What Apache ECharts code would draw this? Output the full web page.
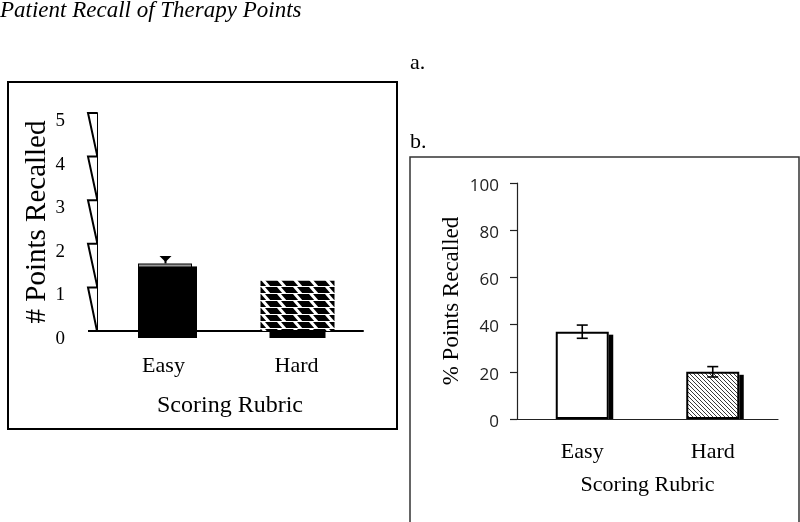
<!DOCTYPE html>
<html><head><meta charset="utf-8">
<script src="https://cdn.jsdelivr.net/npm/echarts@6/dist/echarts.min.js"></script>
<style>html,body{margin:0;padding:0;background:#fff}#c{width:800px;height:522px}</style>
</head><body><div id="c"></div>
<script>
// ---- data ----
const categories = ['Easy', 'Hard'];
const countMeans = [1.55, 1.15];       // panel a: # points recalled
const countErrTop = [1.72];            // panel a: visible error marker (Easy)
const countTicks = [0, 1, 2, 3, 4, 5]; // panel a tick values
const percentMeans = [37, 20];         // panel b: % points recalled
const percentErr = [2.8, 2.2];         // panel b: +/- error

// ---- styles ----
const serif = 'Liberation Serif';
const barWidthA = [59, 74];
const barShiftA = [4, 1];

function zigzagPattern() {
  const c = document.createElement('canvas'); c.width = 16; c.height = 7;
  const g = c.getContext('2d');
  g.fillStyle = '#000'; g.fillRect(0, 0, 16, 7);
  g.fillStyle = '#fff';
  g.beginPath(); g.moveTo(5, 0); g.lineTo(9, 0); g.lineTo(15, 7); g.lineTo(11, 7); g.closePath(); g.fill();
  g.beginPath(); g.moveTo(-11, 0); g.lineTo(-7, 0); g.lineTo(-1, 7); g.lineTo(-5, 7); g.closePath(); g.fill();
  g.fillRect(0, 6, 16, 1);
  return c;
}
function hatchPattern() {
  const c = document.createElement('canvas'); c.width = 4; c.height = 4;
  const g = c.getContext('2d');
  g.fillStyle = '#fff'; g.fillRect(0, 0, 4, 4);
  g.strokeStyle = '#3a3a3a'; g.lineWidth = 1;
  g.beginPath();
  g.moveTo(-1, -1); g.lineTo(5, 5);
  g.moveTo(-1, 3); g.lineTo(1, 5);
  g.moveTo(3, -1); g.lineTo(5, 1);
  g.stroke();
  return c;
}
const zig = { image: zigzagPattern(), repeat: 'repeat' };
const hatch = { image: hatchPattern(), repeat: 'repeat' };

const chart = echarts.init(document.getElementById('c'), null, { renderer: 'canvas' });

const option = {
  animation: false,
  backgroundColor: '#fff',
  title: [
    { text: 'Patient Recall of Therapy Points', left: 0, top: -1, padding: 0,
      textStyle: { fontFamily: serif, fontStyle: 'italic', fontWeight: 'normal', fontSize: 23, color: '#000' } },
    { text: 'a.', left: 410, top: 52, padding: 0,
      textStyle: { fontFamily: serif, fontWeight: 'normal', fontSize: 22, color: '#000' } },
    { text: 'b.', left: 410, top: 131, padding: 0,
      textStyle: { fontFamily: serif, fontWeight: 'normal', fontSize: 22, color: '#000' } }
  ],
  graphic: [
    { type: 'rect', shape: { x: 8, y: 82, width: 389, height: 347 }, style: { fill: 'none', stroke: '#000', lineWidth: 2 }, z: 1 },
    { type: 'rect', shape: { x: 410, y: 157, width: 389, height: 380 }, style: { fill: 'none', stroke: '#333', lineWidth: 1.5 }, z: 1 }
  ],
  grid: [
    { left: 97, right: 800 - 363, top: 113, bottom: 522 - 331 },
    { left: 517, right: 800 - 778, top: 183, bottom: 522 - 419 }
  ],
  xAxis: [
    { gridIndex: 0, type: 'category', data: categories,
      axisLine: { show: true, lineStyle: { color: '#000', width: 2 } }, axisTick: { show: false },
      axisLabel: { fontFamily: serif, fontSize: 22, color: '#000', margin: 24 },
      name: 'Scoring Rubric', nameLocation: 'middle', nameGap: 63,
      nameTextStyle: { fontFamily: serif, fontSize: 24, color: '#000' } },
    { gridIndex: 1, type: 'category', data: categories,
      axisLine: { show: true, lineStyle: { color: '#222', width: 1.2 } }, axisTick: { show: false },
      axisLabel: { fontFamily: serif, fontSize: 22, color: '#000', margin: 22 },
      name: 'Scoring Rubric', nameLocation: 'middle', nameGap: 55,
      nameTextStyle: { fontFamily: serif, fontSize: 22, color: '#000' } }
  ],
  yAxis: [
    { gridIndex: 0, type: 'value', min: 0, max: 5, interval: 1,
      axisLine: { show: true, lineStyle: { color: '#000', width: 2 } }, axisTick: { show: false },
      splitLine: { show: false },
      axisLabel: { fontFamily: serif, fontSize: 19, color: '#000', margin: 32, verticalAlign: 'top', lineHeight: 16 },
      name: '# Points Recalled', nameLocation: 'middle', nameGap: 44,
      nameTextStyle: { fontFamily: serif, fontSize: 29, color: '#000' } },
    { gridIndex: 1, type: 'value', min: 0, max: 100, interval: 20,
      axisLine: { show: true, lineStyle: { color: '#222', width: 1.2 } },
      axisTick: { show: true, inside: false, length: 7, lineStyle: { color: '#222', width: 1.2 } },
      splitLine: { show: false },
      axisLabel: { fontFamily: 'Open Sans', fontSize: 17, color: '#222', margin: 18, verticalAlign: 'top', lineHeight: 6 },
      name: '% Points Recalled', nameLocation: 'middle', nameGap: 54,
      nameTextStyle: { fontFamily: serif, fontSize: 23, color: '#000' } }
  ],
  series: [
    // panel a: sawtooth y-axis ticks
    { type: 'custom', xAxisIndex: 0, yAxisIndex: 0, clip: false, z: 3,
      data: countTicks.map(v => [0, v]),
      renderItem: function (params, api) {
        const k = api.value(1);
        const x0 = params.coordSys.x;
        const y = api.coord([0, k])[1];
        const pts = [[x0, y], [x0 - 9, y]];
        if (k > 0) {
          const yPrev = api.coord([0, k - 1])[1];
          pts.push([x0, yPrev - (k - 1 > 0 ? 2 : 0)]);
        }
        return { type: 'polyline', shape: { points: pts }, style: { stroke: '#000', lineWidth: 2, fill: k > 0 ? '#fff' : null } };
      }
    },
    // panel a: bars
    { type: 'custom', xAxisIndex: 0, yAxisIndex: 0, clip: false, z: 2,
      data: countMeans.map((v, i) => [i, v]),
      renderItem: function (params, api) {
        const i = api.value(0), v = api.value(1);
        const top = api.coord([i, v]), base = api.coord([i, 0]);
        const w = barWidthA[i];
        const cx = top[0] + barShiftA[i];
        const l = cx - w / 2;
        const children = [];
        if (i === 0) {
          children.push({ type: 'rect', shape: { x: l, y: top[1], width: w, height: base[1] + 7 - top[1] }, style: { fill: '#000' } });
          children.push({ type: 'rect', shape: { x: l + 1, y: top[1] + 1, width: w - 7, height: 2 }, style: { fill: '#9a9a9a' } });
          children.push({ type: 'rect', shape: { x: l + w - 5, y: top[1] - 1, width: 6, height: 4 }, style: { fill: '#fff' } });
        } else {
          children.push({ type: 'rect', shape: { x: l, y: top[1], width: w, height: base[1] - top[1] }, style: { fill: zig } });
          children.push({ type: 'rect', shape: { x: cx - 28, y: base[1] - 1, width: 56, height: 8 }, style: { fill: '#000' } });
        }
        return { type: 'group', children: children };
      }
    },
    // panel a: error marker (Easy)
    { type: 'custom', xAxisIndex: 0, yAxisIndex: 0, clip: false, z: 4,
      data: countErrTop.map((v, i) => [i, v, countMeans[i]]),
      renderItem: function (params, api) {
        const i = api.value(0);
        const t = api.coord([i, api.value(1)]), m = api.coord([i, api.value(2)]);
        const x = t[0] + barShiftA[i] - 2;
        return { type: 'group', children: [
          { type: 'polygon', shape: { points: [[x - 6, t[1]], [x + 6, t[1]], [x, t[1] + 6]] }, style: { fill: '#000' } },
          { type: 'line', shape: { x1: x, y1: t[1], x2: x, y2: m[1] }, style: { stroke: '#000', lineWidth: 2 } }
        ] };
      }
    },
    // panel b: shadows
    { type: 'custom', xAxisIndex: 1, yAxisIndex: 1, clip: false, z: 2,
      data: percentMeans.map((v, i) => [i, v]),
      renderItem: function (params, api) {
        const i = api.value(0), v = api.value(1);
        const top = api.coord([i, v]), base = api.coord([i, 0]);
        return { type: 'rect', shape: { x: top[0] + 26.5, y: top[1] + 3, width: 4.5, height: base[1] - top[1] - 3 }, style: { fill: '#000' } };
      }
    },
    // panel b: bars
    { type: 'bar', xAxisIndex: 1, yAxisIndex: 1, barWidth: 53, z: 3,
      data: percentMeans.map((v, i) => ({ value: v, itemStyle: { color: i === 0 ? '#fff' : hatch } })),
      itemStyle: { borderColor: '#000', borderWidth: 2 } },
    // panel b: error bars
    { type: 'custom', xAxisIndex: 1, yAxisIndex: 1, clip: false, z: 5,
      data: percentMeans.map((v, i) => [i, v, percentErr[i]]),
      renderItem: function (params, api) {
        const i = api.value(0), m = api.value(1), e = api.value(2);
        const hi = api.coord([i, m + e]), lo = api.coord([i, m - e]);
        const s = { stroke: '#000', lineWidth: 1.6 };
        return { type: 'group', children: [
          { type: 'line', shape: { x1: hi[0], y1: hi[1], x2: lo[0], y2: lo[1] }, style: s },
          { type: 'line', shape: { x1: hi[0] - 5.5, y1: hi[1], x2: hi[0] + 5.5, y2: hi[1] }, style: s },
          { type: 'line', shape: { x1: lo[0] - 5.5, y1: lo[1], x2: lo[0] + 5.5, y2: lo[1] }, style: s }
        ] };
      }
    }
  ]
};
chart.setOption(option);
</script>
</body></html>
